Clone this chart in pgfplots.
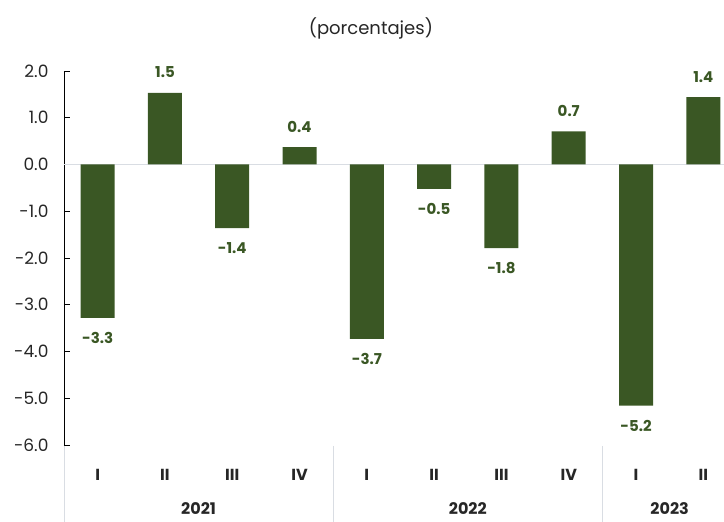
\documentclass[border=0pt]{standalone}
\usepackage{pgfplots}
\pgfplotsset{compat=1.18}
\usepackage{fontspec}
\setmainfont{Poppins}
\definecolor{barverde}{HTML}{3A5724}
\definecolor{txtgris}{HTML}{262626}
\definecolor{sepgris}{HTML}{D9DDE3}

\begin{document}
\begin{tikzpicture}
\begin{axis}[
    scale only axis,
    width=660pt, height=374pt,
    xmin=-0.5, xmax=9.307,
    ymin=-6, ymax=2,
    axis lines*=left,
    x axis line style={draw=none},
    y axis line style={-, black, line width=0.8pt},
    ytick={-6,-5,...,2},
    ytick align=inside,
    ytick style={black, line width=0.8pt},
    major tick length=6pt,
    yticklabel style={font=\fontsize{17}{17}\selectfont, text=txtgris, xshift=-12pt},
    /pgf/number format/assume math mode=true,
    yticklabel={\pgfmathprintnumber[fixed,fixed zerofill,precision=1]{\tick}},
    xtick={0,...,9},
    xticklabels={I,II,III,IV,I,II,III,IV,I,II},
    xtick style={draw=none},
    xticklabel style={font=\bfseries\fontsize{16}{16}\selectfont, text=txtgris, yshift=-15pt},
    clip=false,
    ybar, bar width=34pt,
    nodes near coords,
    nodes near coords align={vertical},
    every node near coord/.append style={font=\bfseries\fontsize{15}{15}\selectfont, text=barverde,
      inner xsep=0pt, inner ysep=15pt, outer sep=0pt, text height=10.5pt, text depth=0pt,
      /pgf/number format/.cd, fixed, fixed zerofill, precision=1, assume math mode=true},
]
\draw[sepgris, line width=1.5pt] (axis cs:-0.5,0) -- (axis cs:9.307,0);
\addplot[fill=barverde, draw=none] coordinates {
    (0,-3.28) (1,1.53) (2,-1.36) (3,0.37) (4,-3.73)
    (5,-0.52) (6,-1.79) (7,0.71) (8,-5.16) (9,1.44)
};
\foreach \xs in {-0.5,3.5,7.5} {
  \edef\temp{\noexpand\draw[sepgris, line width=0.8pt] ([yshift=-1pt]axis cs:\xs,-6) -- ([yshift=-77pt]axis cs:\xs,-6);}
  \temp
}
\node[font=\bfseries\fontsize{16}{16}\selectfont, text=txtgris] at ([yshift=-64pt]axis cs:1.5,-6) {2021};
\node[font=\bfseries\fontsize{16}{16}\selectfont, text=txtgris] at ([yshift=-64pt]axis cs:5.5,-6) {2022};
\node[font=\bfseries\fontsize{16}{16}\selectfont, text=txtgris] at ([yshift=-64pt]axis cs:8.5,-6) {2023};
\node[font=\fontsize{18}{18}\selectfont, text=txtgris] at ([yshift=43pt]axis cs:4.06,2) {(porcentajes)};
\end{axis}
\pgfresetboundingbox
\path (-64pt,-77pt) rectangle (660pt,445pt);
\end{tikzpicture}
\end{document}
